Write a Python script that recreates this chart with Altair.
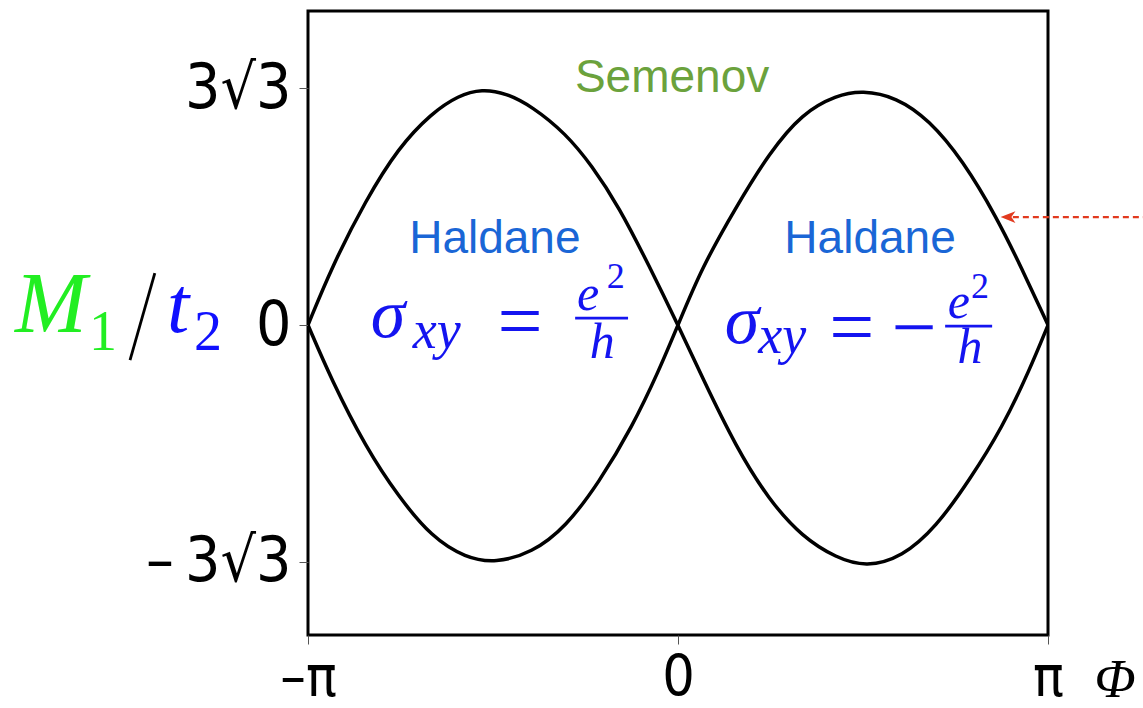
import math
import altair as alt
import pandas as pd

# Phase boundaries of the Haldane model: flux Φ (in units of π) vs M1/t2
# Boundary that is positive for Φ < 0 and negative for Φ > 0
phi_a = [-1.0, -0.936, -0.844, -0.755, -0.666, -0.593, -0.530, -0.465, -0.395,
         -0.303, -0.233, -0.160, -0.078, 0.0, 0.065, 0.157, 0.246, 0.336, 0.428,
         0.509, 0.606, 0.698, 0.788, 0.877, 0.950, 1.0]
m_a = [0.0, 1.27, 2.74, 3.90, 4.65, 5.04, 5.18, 5.09, 4.80,
       4.20, 3.50, 2.60, 1.30, 0.0, -1.14, -2.68, -3.84, -4.65, -5.11,
       -5.31, -5.09, -4.43, -3.40, -2.24, -0.99, 0.0]

# Boundary that is negative for Φ < 0 and positive for Φ > 0
phi_b = [-1.0, -0.936, -0.844, -0.755, -0.666, -0.574, -0.493, -0.395, -0.303,
         -0.214, -0.124, -0.051, 0.0, 0.065, 0.157, 0.246, 0.336, 0.428, 0.498,
         0.590, 0.679, 0.769, 0.861, 0.931, 1.0]
m_b = [0.0, -1.21, -2.68, -3.77, -4.65, -5.11, -5.22, -5.00, -4.43,
       -3.46, -2.24, -0.99, 0.0, 1.27, 2.59, 3.77, 4.65, 5.04, 5.15,
       5.00, 4.50, 3.62, 2.37, 1.21, 0.0]

# Axis ticks
phi_ticks = [-1, 0, 1]
phi_tick_labels = ["–π", "0", "π"]
m_ticks = [-3 * math.sqrt(3), 0, 3 * math.sqrt(3)]
m_tick_labels = ["–\u20093√3", "0", "3√3"]

# Region names (sans serif)
region_text = ["Semenov", "Haldane", "Haldane"]
region_phi = [-0.016, -0.495, 0.519]
region_m = [5.11, 1.58, 1.58]
region_color = ["#6ba23c", "#1a66d6", "#1a66d6"]

# Math pieces, italic letters
ital_text = ["σ", "xy", "e", "h", "σ", "xy", "e", "h", "M", "t", "Φ"]
ital_phi = [-0.784, -0.652, -0.243, -0.205, 0.173, 0.282, 0.759, 0.789, -1.695, -1.351, 1.181]
ital_m = [-0.263, -0.50, 0.329, -0.724, -0.395, -0.61, 0.154, -0.833, -0.154, -0.154, -8.15]
ital_size = [70, 54, 50, 50, 70, 54, 50, 50, 86, 80, 54]
ital_color = ["#1414f0"] * 8 + ["#22ee22", "#1010ff", "black"]

# Math pieces, upright symbols and digits
up_text = ["=", "2", "=", "−", "2", "1", "2"]
up_phi = [-0.427, -0.168, 0.470, 0.638, 0.816, -1.554, -1.270]
up_m = [-0.50, 0.811, -0.63, -0.63, 0.592, -0.548, -0.548]
up_size = [80, 36, 80, 80, 36, 56, 56]
up_color = ["#1414f0"] * 5 + ["#22ee22", "#1010ff"]

# Fraction bars and the slash of M1/t2
bar_phi = [-0.278, 0.722, -1.481]
bar_phi2 = [-0.135, 0.849, -1.414]
bar_m = [0.154, -0.022, -0.768]
bar_m2 = [0.154, -0.022, 1.14]
bar_color = ["#1414f0", "#1414f0", "black"]

# Red dashed pointer to the boundary
arrow_phi = [0.905]
arrow_phi2 = [1.257]
arrow_m = [2.368]
arrow_tip_phi = [0.892]

LABEL_FONT = "Liberation Sans Narrow, DejaVu Sans Condensed, Arial Narrow, sans-serif"
SERIF = "Liberation Serif, DejaVu Serif, serif"
SANS = "Liberation Sans, Arial, sans-serif"


def expr_from(values, labels):
    parts = []
    for v, lab in zip(values, labels):
        parts.append(f"abs(datum.value - ({v})) < 0.01 ? '{lab}'")
    return " : ".join(parts) + " : ''"


xscale = alt.Scale(domain=[-1, 1], nice=False, zero=False)
yscale = alt.Scale(domain=[-6.80, 6.89], nice=False, zero=False)

common_axis = dict(
    title=None, domain=False, grid=False, ticks=True, tickSize=9,
    tickColor="#555555", tickWidth=1, labelFont=LABEL_FONT,
    labelColor="black", labelOverlap=False, labelFlush=False,
)
xaxis = alt.Axis(values=phi_ticks, labelExpr=expr_from(phi_ticks, phi_tick_labels),
                 labelFontSize=57, labelPadding=6, **common_axis)
yaxis = alt.Axis(values=m_ticks, labelExpr=expr_from(m_ticks, m_tick_labels),
                 labelFontSize=62, labelPadding=8, **common_axis)


def X(field="phi"):
    return alt.X(f"{field}:Q", scale=xscale, axis=xaxis)


def Y(field="M"):
    return alt.Y(f"{field}:Q", scale=yscale, axis=yaxis)


curves = pd.concat([
    pd.DataFrame({"phi": phi_a, "M": m_a, "curve": "a"}),
    pd.DataFrame({"phi": phi_b, "M": m_b, "curve": "b"}),
])

lines = alt.Chart(curves).mark_line(
    color="black", strokeWidth=3.5, interpolate="basis", clip=True
).encode(x=X(), y=Y(), detail="curve:N", order="phi:Q")

regions = alt.Chart(pd.DataFrame({
    "phi": region_phi, "M": region_m, "label": region_text, "col": region_color
})).mark_text(font=SANS, fontSize=46, align="center", baseline="alphabetic").encode(
    x=X(), y=Y(), text="label:N", color=alt.Color("col:N", scale=None)
)

ital = alt.Chart(pd.DataFrame({
    "phi": ital_phi, "M": ital_m, "label": ital_text, "fs": ital_size, "col": ital_color
})).mark_text(font=SERIF, fontStyle="italic", align="center", baseline="alphabetic").encode(
    x=X(), y=Y(), text="label:N", size=alt.Size("fs:Q", scale=None),
    color=alt.Color("col:N", scale=None)
)

upright = alt.Chart(pd.DataFrame({
    "phi": up_phi, "M": up_m, "label": up_text, "fs": up_size, "col": up_color
})).mark_text(font=SERIF, align="center", baseline="alphabetic").encode(
    x=X(), y=Y(), text="label:N", size=alt.Size("fs:Q", scale=None),
    color=alt.Color("col:N", scale=None)
)

bars = alt.Chart(pd.DataFrame({
    "phi": bar_phi, "phi2": bar_phi2, "M": bar_m, "M2": bar_m2, "col": bar_color
})).mark_rule(strokeWidth=2.8).encode(
    x=X(), x2="phi2:Q", y=Y(), y2="M2:Q", color=alt.Color("col:N", scale=None)
)

arrow_line = alt.Chart(pd.DataFrame({
    "phi": arrow_phi, "phi2": arrow_phi2, "M": arrow_m
})).mark_rule(color="#e23a1e", strokeWidth=2.2, strokeDash=[6, 4]).encode(
    x=X(), x2="phi2:Q", y=Y()
)

arrow_head = alt.Chart(pd.DataFrame({
    "phi": arrow_tip_phi, "M": arrow_m
})).mark_point(
    shape="M -1 0 L 1 -0.8 L 0.45 0 L 1 0.8 Z", filled=True, color="#e23a1e",
    size=220, opacity=1
).encode(x=X(), y=Y())

chart = alt.layer(
    lines, regions, ital, upright, bars, arrow_line, arrow_head
).properties(
    width=740, height=624,
    background="white",
    autosize=alt.AutoSizeParams(type="none"),
    padding={"left": 308, "top": 11, "right": 95, "bottom": 73},
).configure_view(
    stroke="black", strokeWidth=3
)

chart.save("out.html", embed_options={"renderer": "svg", "actions": False})
